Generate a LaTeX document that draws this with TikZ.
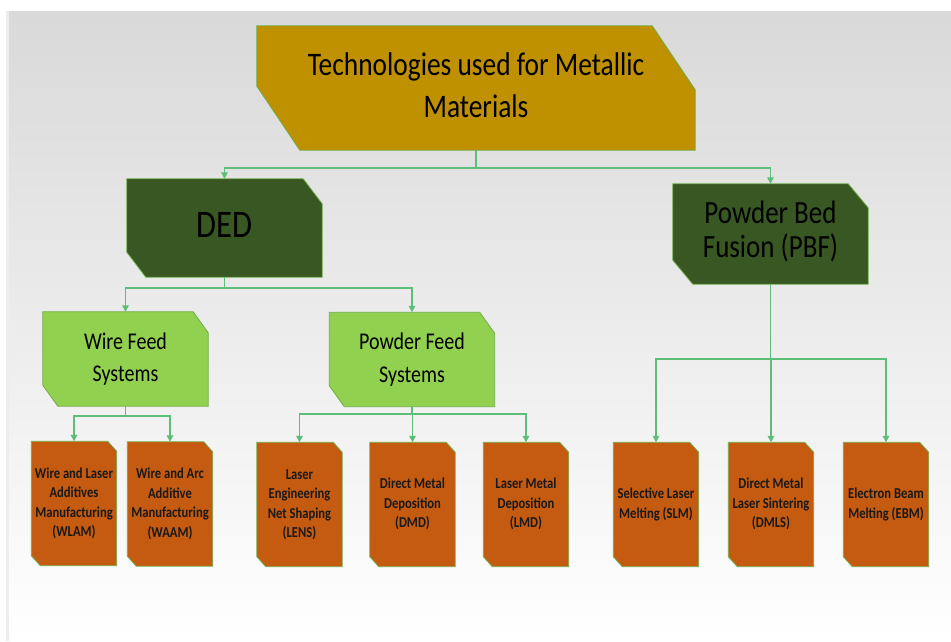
\documentclass[tikz,border=0pt]{standalone}
\usepackage{fontspec}
\setmainfont{Carlito}
\usepackage{graphicx}
\usetikzlibrary{arrows.meta,backgrounds}
\definecolor{cGold}{HTML}{BF9000}
\definecolor{cForest}{HTML}{385723}
\definecolor{cLime}{HTML}{92D050}
\definecolor{cRust}{HTML}{C55A11}
\definecolor{cEdge}{HTML}{70AD47}
\definecolor{cLink}{HTML}{5DBE78}
% slightly taller lettering
\newcommand{\tallbox}[1]{\scalebox{1}[1.2]{\begin{tabular}{@{}c@{}}#1\end{tabular}}}

\begin{document}
\begin{tikzpicture}[x=1pt,y=-1pt,
    >={Triangle[length=6.5pt,width=6.5pt]},
    box/.style={rectangle, inner sep=0pt, text=black},
    rootbox/.style={box, minimum width=438pt, minimum height=124pt,
      font=\fontsize{27.4}{35}\selectfont},
    famboxed/.style={box, minimum width=195pt, minimum height=98pt},
    feedbox/.style={box, minimum width=165pt, minimum height=94pt,
      font=\fontsize{20}{27}\selectfont},
    procbox/.style={box, minimum width=85pt, minimum height=124pt,
      text=black!90, font=\bfseries\fontsize{12.6}{16.3}\selectfont},
    snip/.style={draw=cEdge, line width=0.8pt},
    link/.style={->, draw=cLink, line width=1.6pt}]

  \useasboundingbox (0,0) rectangle (951,641);

  % level 0
  \node[rootbox] (tech) at (476,88) {\tallbox{Technologies used for Metallic\\Materials}};

  % level 1
  \node[famboxed, font=\fontsize{32.5}{38}\selectfont] (ded) at (224.5,228) {\tallbox{DED}};
  \node[famboxed, minimum height=100pt, font=\fontsize{27}{26.7}\selectfont] (pbf) at (770.5,234)
    {\tallbox{Powder Bed\\Fusion (PBF)}};

  % level 2
  \node[feedbox] (wire)   at (125.5,359) {\tallbox{Wire Feed\\Systems}};
  \node[feedbox] (powder) at (412,359.5) {\tallbox{Powder Feed\\Systems}};

  % processes
  \node[procbox] (wlam) at (74,503.5)  {\tallbox{Wire and Laser\\Additives\\Manufacturing\\(WLAM)}};
  \node[procbox] (waam) at (170,504)   {\tallbox{Wire and Arc\\Additive\\Manufacturing\\(WAAM)}};
  \node[procbox] (lens) at (299.5,504.5) {\tallbox{Laser\\Engineering\\Net Shaping\\(LENS)}};
  \node[procbox] (dmd)  at (412.5,504.5) {\tallbox{Direct Metal\\Deposition\\(DMD)}};
  \node[procbox] (lmd)  at (526,504.5) {\tallbox{Laser Metal\\Deposition\\(LMD)}};
  \node[procbox] (slm)  at (656,504.5) {\tallbox{Selective Laser\\Melting (SLM)}};
  \node[procbox] (dmls) at (771,504.5) {\tallbox{Direct Metal\\Laser Sintering\\(DMLS)}};
  \node[procbox] (ebm)  at (886,504.5) {\tallbox{Electron Beam\\Melting (EBM)}};

  % backdrop and snipped boxes behind the text
  \begin{scope}[on background layer]
    \shade[top color=black!15, bottom color=white] (6,11) rectangle (951,641);
    \draw[black!7, line width=3pt] (7.5,11) -- (7.5,641);
    \foreach \n/\c/\dx/\dy in {tech/cGold/43/64, ded/cForest/19/25, pbf/cForest/20/24,
        wire/cLime/15/21, powder/cLime/15/21,
        wlam/cRust/9/10, waam/cRust/9/10, lens/cRust/9/10, dmd/cRust/9/10, lmd/cRust/9/10,
        slm/cRust/9/10, dmls/cRust/9/10, ebm/cRust/9/10}
      \filldraw[snip, fill=\c] (\n.north west) -- ([xshift=-\dx pt]\n.north east)
        -- ([yshift=-\dy pt]\n.north east) -- (\n.south east)
        -- ([xshift=\dx pt]\n.south west) -- ([yshift=\dy pt]\n.south west) -- cycle;
  \end{scope}

  % connectors
  \draw[link] (tech.south) -- ++(0,18) -| (ded.north);
  \draw[link] (tech.south) -- ++(0,18) -| (pbf.north);
  \draw[link] (ded.south) -- ++(0,11) -| (wire.north);
  \draw[link] (ded.south) -- ++(0,11) -| (powder.north);
  \draw[link] (wire.south) -- ++(0,10) -| (wlam.north);
  \draw[link] (wire.south) -- ++(0,10) -| (waam.north);
  \foreach \p in {lens,dmd,lmd}
    \draw[link] (powder.south) -- ++(0,7) -| (\p.north);
  \foreach \p in {slm,dmls,ebm}
    \draw[link] (pbf.south) -- ++(0,75) -| (\p.north);
\end{tikzpicture}
\end{document}
